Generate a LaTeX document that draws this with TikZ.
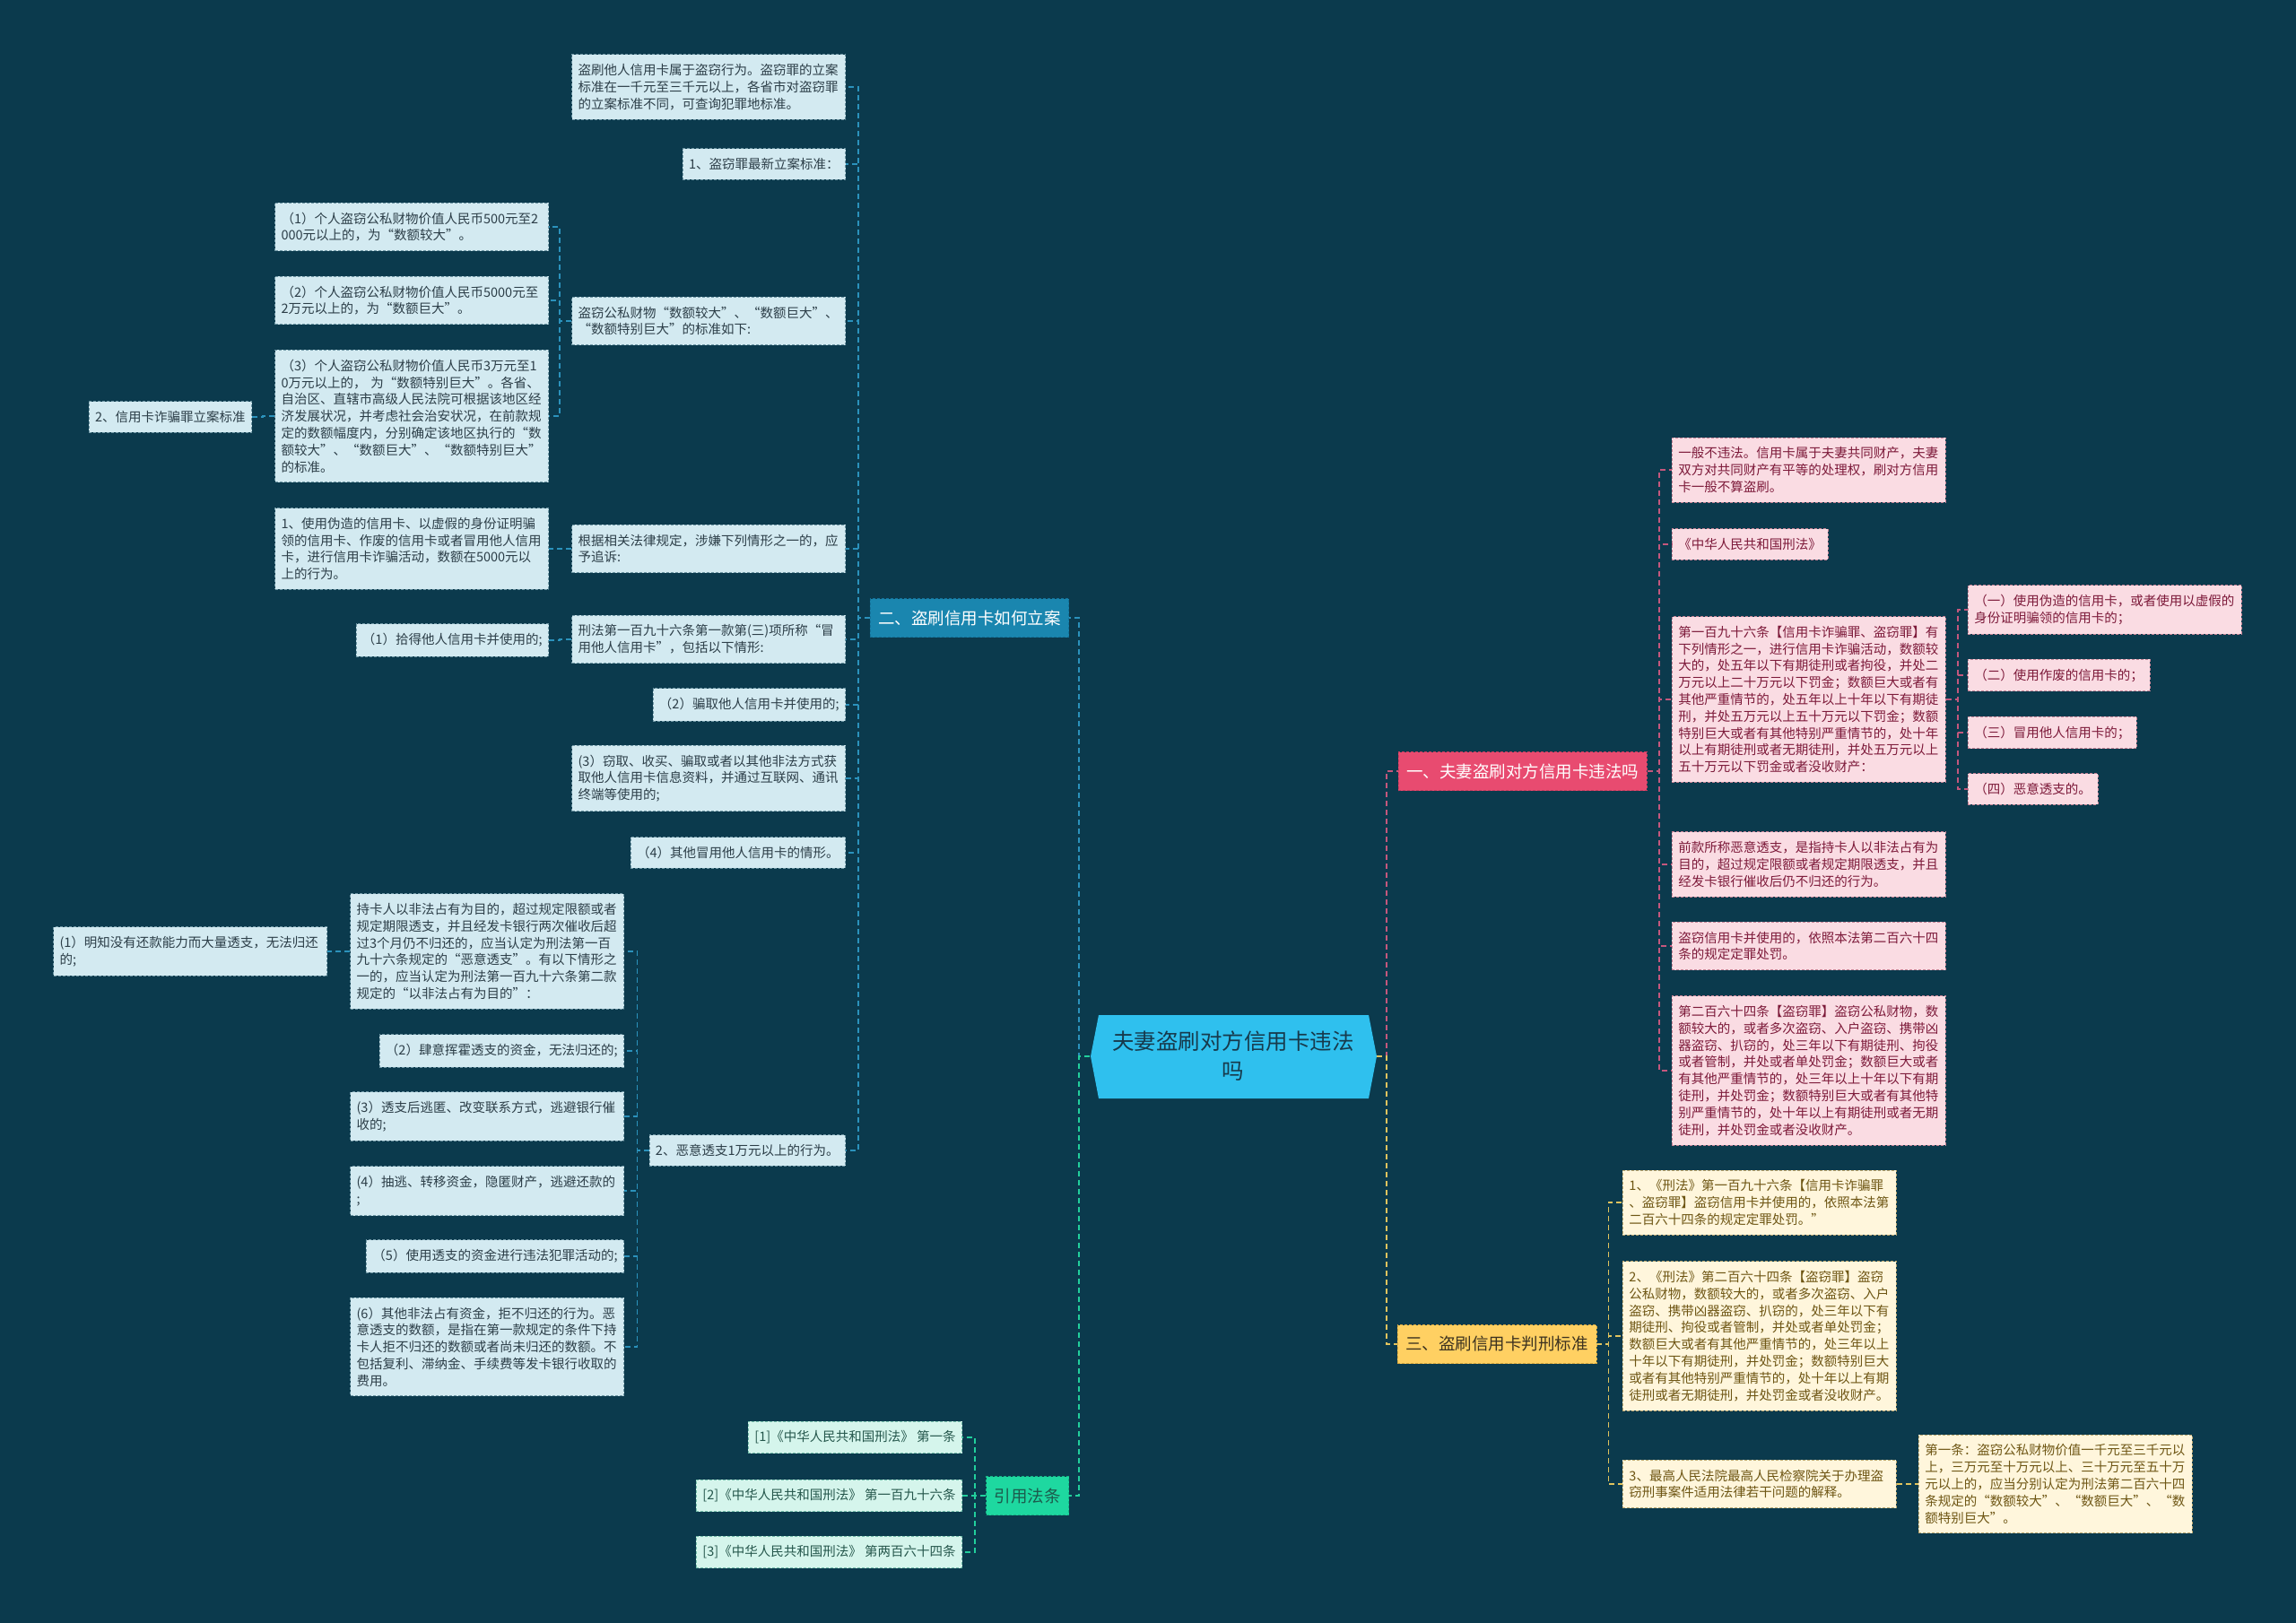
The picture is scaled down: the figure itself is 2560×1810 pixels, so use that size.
\documentclass[tikz,border=0pt]{standalone}
\usepackage{fontspec}
\setmainfont{Noto Sans CJK SC}
\usetikzlibrary{graphs}

\definecolor{colbg}{HTML}{0B3A4D}
\definecolor{colbfill}{HTML}{D3EAF1}
\definecolor{colbdraw}{HTML}{6E96A4}
\definecolor{colbtext}{HTML}{2C3E48}
\definecolor{colbbr}{HTML}{1A86AF}
\definecolor{colbbrd}{HTML}{14729A}
\definecolor{colbln}{HTML}{2B92BC}
\definecolor{colpfill}{HTML}{FADCE3}
\definecolor{colpdraw}{HTML}{C48295}
\definecolor{colptext}{HTML}{7D1A3A}
\definecolor{colpbr}{HTML}{E84B70}
\definecolor{colpbrd}{HTML}{C93C5E}
\definecolor{colpln}{HTML}{C4577D}
\definecolor{colyfill}{HTML}{FFF6DC}
\definecolor{colydraw}{HTML}{BBA66E}
\definecolor{colytext}{HTML}{6E5614}
\definecolor{colybr}{HTML}{FFD062}
\definecolor{colybrd}{HTML}{D9A93E}
\definecolor{colybrtext}{HTML}{3D3320}
\definecolor{colyln}{HTML}{E0C35E}
\definecolor{colgfill}{HTML}{D5F5EC}
\definecolor{colgdraw}{HTML}{73BDAA}
\definecolor{colgtext}{HTML}{25574C}
\definecolor{colgbr}{HTML}{1ED8A0}
\definecolor{colgbrd}{HTML}{17B485}
\definecolor{colgbrtext}{HTML}{1C5A4C}
\definecolor{colgln}{HTML}{22CF9C}
\definecolor{colroot}{HTML}{2FC0EE}
\definecolor{colroottext}{HTML}{173A4C}

\begin{document}
\begin{tikzpicture}[x=1pt,y=-1pt,
    every node/.style={rectangle,dash pattern=on 3pt off 2pt,line width=0.9pt,
      inner xsep=7pt,inner ysep=10.5pt,minimum height=34pt,
      font=\fontsize{14.5}{18.8}\selectfont},
    wide/.style={text width=291pt,align=left},
    leafb/.style={draw=colbdraw,fill=colbfill,text=colbtext},
    leafp/.style={draw=colpdraw,fill=colpfill,text=colptext},
    leafy/.style={draw=colydraw,fill=colyfill,text=colytext},
    leafg/.style={draw=colgdraw,fill=colgfill,text=colgtext},
    branch/.style={inner xsep=9pt,minimum height=43pt,font=\fontsize{18.5}{22}\selectfont},
    lnb/.style={draw=colbln,line width=1.8pt,dash pattern=on 6pt off 4pt},
    lnp/.style={draw=colpln,line width=1.8pt,dash pattern=on 6pt off 4pt},
    lny/.style={draw=colyln,line width=1.8pt,dash pattern=on 6pt off 4pt},
    lng/.style={draw=colgln,line width=1.8pt,dash pattern=on 6pt off 4pt},
    lelbow/.style={to path={(\tikztostart.west) -- ++(-#1,0pt) |- (\tikztotarget.east)}},
    lelbow/.default=13pt,
    relbow/.style={to path={(\tikztostart.east) -- ++(#1,0pt) |- (\tikztotarget.west)}},
    relbow/.default=13pt]

    \useasboundingbox (0,0) rectangle (2560,1810);
    \fill[colbg] (0,0) rectangle (2560,1810);

    % centre
    \fill[colroot] (1216,1178) -- (1225,1132) -- (1526,1132) -- (1535,1178)
        -- (1526,1225) -- (1225,1225) -- cycle;
    \node[draw=none,minimum width=319pt,minimum height=93pt,align=center,text=colroottext,
        font=\fontsize{24.5}{33}\selectfont] (root) at (1375,1178) {夫妻盗刷对方信用卡违法\\吗};

    % branch two
    \node[branch,fill=colbbr,draw=colbbrd,text=white,anchor=east] (br2) at (1192,689) {二、盗刷信用卡如何立案};
    \node[leafb,wide,anchor=east] (t1) at (943,97) {盗刷他人信用卡属于盗窃行为。盗窃罪的立案\\标准在一千元至三千元以上，各省市对盗窃罪\\的立案标准不同，可查询犯罪地标准。};
    \node[leafb,anchor=east] (t2) at (943,183) {1、盗窃罪最新立案标准：};
    \node[leafb,wide,anchor=east] (amt) at (943,358) {盗窃公私财物“数额较大”、“数额巨大”、\\“数额特别巨大”的标准如下:};
    \node[leafb,wide,anchor=east] (a1) at (612,253) {（1）个人盗窃公私财物价值人民币500元至2\\000元以上的，为“数额较大”。};
    \node[leafb,wide,anchor=east] (a2) at (612,335) {（2）个人盗窃公私财物价值人民币5000元至\\2万元以上的，为“数额巨大”。};
    \node[leafb,wide,anchor=east] (a3) at (612,464) {（3）个人盗窃公私财物价值人民币3万元至1\\0万元以上的， 为“数额特别巨大”。各省、\\自治区、直辖市高级人民法院可根据该地区经\\济发展状况，并考虑社会治安状况，在前款规\\定的数额幅度内，分别确定该地区执行的“数\\额较大”、“数额巨大”、“数额特别巨大”\\的标准。};
    \node[leafb,anchor=east] (a3x) at (281,465) {2、信用卡诈骗罪立案标准};
    \node[leafb,wide,anchor=east] (law) at (943,612) {根据相关法律规定，涉嫌下列情形之一的，应\\予追诉:};
    \node[leafb,wide,anchor=east] (law1) at (612,612) {1、使用伪造的信用卡、以虚假的身份证明骗\\领的信用卡、作废的信用卡或者冒用他人信用\\卡，进行信用卡诈骗活动，数额在5000元以\\上的行为。};
    \node[leafb,wide,anchor=east] (art) at (943,713) {刑法第一百九十六条第一款第(三)项所称“冒\\用他人信用卡”，包括以下情形:};
    \node[leafb,anchor=east] (art1) at (612,714) {（1）拾得他人信用卡并使用的;};
    \node[leafb,anchor=east] (b2) at (943,786) {（2）骗取他人信用卡并使用的;};
    \node[leafb,wide,anchor=east] (b3) at (943,868) {(3）窃取、收买、骗取或者以其他非法方式获\\取他人信用卡信息资料，并通过互联网、通讯\\终端等使用的;};
    \node[leafb,anchor=east] (b4) at (943,951) {（4）其他冒用他人信用卡的情形。};
    \node[leafb,anchor=east] (od) at (943,1283) {2、恶意透支1万元以上的行为。};
    \node[leafb,wide,anchor=east] (od0) at (696,1061) {持卡人以非法占有为目的，超过规定限额或者\\规定期限透支，并且经发卡银行两次催收后超\\过3个月仍不归还的，应当认定为刑法第一百\\九十六条规定的“恶意透支”。有以下情形之\\一的，应当认定为刑法第一百九十六条第二款\\规定的“以非法占有为目的”：};
    \node[leafb,wide,anchor=east] (od0a) at (365,1061) {(1）明知没有还款能力而大量透支，无法归还\\的;};
    \node[leafb,anchor=east] (od2) at (696,1172) {（2）肆意挥霍透支的资金，无法归还的;};
    \node[leafb,wide,anchor=east] (od3) at (696,1245) {(3）透支后逃匿、改变联系方式，逃避银行催\\收的;};
    \node[leafb,wide,anchor=east] (od4) at (696,1328) {(4）抽逃、转移资金，隐匿财产，逃避还款的\\;};
    \node[leafb,anchor=east] (od5) at (696,1401) {（5）使用透支的资金进行违法犯罪活动的;};
    \node[leafb,wide,anchor=east] (od6) at (696,1502) {(6）其他非法占有资金，拒不归还的行为。恶\\意透支的数额，是指在第一款规定的条件下持\\卡人拒不归还的数额或者尚未归还的数额。不\\包括复利、滞纳金、手续费等发卡银行收取的\\费用。};

    % cited articles
    \node[branch,fill=colgbr,draw=colgbrd,text=colgbrtext,anchor=east] (cite) at (1192,1668) {引用法条};
    \node[leafg,anchor=east] (c1) at (1073,1603) {[1]《中华人民共和国刑法》 第一条};
    \node[leafg,anchor=east] (c2) at (1073,1668) {[2]《中华人民共和国刑法》 第一百九十六条};
    \node[leafg,anchor=east] (c3) at (1073,1731) {[3]《中华人民共和国刑法》 第两百六十四条};

    % branch one
    \node[branch,fill=colpbr,draw=colpbrd,text=white,anchor=west] (br1) at (1559,860) {一、夫妻盗刷对方信用卡违法吗};
    \node[leafp,wide,anchor=west] (p1) at (1864,524) {一般不违法。信用卡属于夫妻共同财产，夫妻\\双方对共同财产有平等的处理权，刷对方信用\\卡一般不算盗刷。};
    \node[leafp,anchor=west] (p2) at (1864,607) {《中华人民共和国刑法》};
    \node[leafp,wide,anchor=west] (p3) at (1864,780) {第一百九十六条【信用卡诈骗罪、盗窃罪】有\\下列情形之一，进行信用卡诈骗活动，数额较\\大的，处五年以下有期徒刑或者拘役，并处二\\万元以上二十万元以下罚金；数额巨大或者有\\其他严重情节的，处五年以上十年以下有期徒\\刑，并处五万元以上五十万元以下罚金；数额\\特别巨大或者有其他特别严重情节的，处十年\\以上有期徒刑或者无期徒刑，并处五万元以上\\五十万元以下罚金或者没收财产：};
    \node[leafp,wide,anchor=west] (p3a) at (2194,680) {（一）使用伪造的信用卡，或者使用以虚假的\\身份证明骗领的信用卡的；};
    \node[leafp,anchor=west] (p3b) at (2194,753) {（二）使用作废的信用卡的；};
    \node[leafp,anchor=west] (p3c) at (2194,817) {（三）冒用他人信用卡的；};
    \node[leafp,anchor=west] (p3d) at (2194,880) {（四）恶意透支的。};
    \node[leafp,wide,anchor=west] (p4) at (1864,964) {前款所称恶意透支，是指持卡人以非法占有为\\目的，超过规定限额或者规定期限透支，并且\\经发卡银行催收后仍不归还的行为。};
    \node[leafp,wide,anchor=west] (p5) at (1864,1055) {盗窃信用卡并使用的，依照本法第二百六十四\\条的规定定罪处罚。};
    \node[leafp,wide,anchor=west] (p6) at (1864,1194) {第二百六十四条【盗窃罪】盗窃公私财物，数\\额较大的，或者多次盗窃、入户盗窃、携带凶\\器盗窃、扒窃的，处三年以下有期徒刑、拘役\\或者管制，并处或者单处罚金；数额巨大或者\\有其他严重情节的，处三年以上十年以下有期\\徒刑，并处罚金；数额特别巨大或者有其他特\\别严重情节的，处十年以上有期徒刑或者无期\\徒刑，并处罚金或者没收财产。};

    % branch three
    \node[branch,fill=colybr,draw=colybrd,text=colybrtext,anchor=west] (br3) at (1558,1499) {三、盗刷信用卡判刑标准};
    \node[leafy,wide,anchor=west] (y1) at (1809,1341) {1、《刑法》第一百九十六条【信用卡诈骗罪\\、盗窃罪】盗窃信用卡并使用的，依照本法第\\二百六十四条的规定定罪处罚。”};
    \node[leafy,wide,anchor=west] (y2) at (1809,1490) {2、《刑法》第二百六十四条【盗窃罪】盗窃\\公私财物，数额较大的，或者多次盗窃、入户\\盗窃、携带凶器盗窃、扒窃的，处三年以下有\\期徒刑、拘役或者管制，并处或者单处罚金；\\数额巨大或者有其他严重情节的，处三年以上\\十年以下有期徒刑，并处罚金；数额特别巨大\\或者有其他特别严重情节的，处十年以上有期\\徒刑或者无期徒刑，并处罚金或者没收财产。};
    \node[leafy,wide,anchor=west] (y3) at (1809,1655) {3、最高人民法院最高人民检察院关于办理盗\\窃刑事案件适用法律若干问题的解释。};
    \node[leafy,wide,anchor=west] (y3a) at (2139,1655) {第一条：盗窃公私财物价值一千元至三千元以\\上，三万元至十万元以上、三十万元至五十万\\元以上的，应当分别认定为刑法第二百六十四\\条规定的“数额较大”、“数额巨大”、“数\\额特别巨大”。};

    \graph {
        (root) --[lnb,lelbow=12pt] (br2);
        (root) --[lng,lelbow=12pt] (cite);
        (root) --[lnp,relbow=11pt] (br1);
        (root) --[lny,relbow=11pt] (br3);
    };

    \graph[edges={lnb,lelbow}] {
        (br2) -- {(t1), (t2), (amt), (law), (art), (b2), (b3), (b4), (od)};
        (amt) -- {(a1), (a2), (a3)};
        (a3) -- (a3x);
        (law) -- (law1);
        (art) -- (art1);
        (od) -- {(od0), (od2), (od3), (od4), (od5), (od6)};
        (od0) -- (od0a);
    };
    \graph[edges={lng,lelbow=12pt}] {
        (cite) -- {(c1), (c2), (c3)};
    };
    \graph[edges={lnp,relbow}] {
        (br1) -- {(p1), (p2), (p3), (p4), (p5), (p6)};
        (p3) -- {(p3a), (p3b), (p3c), (p3d)};
    };
    \graph[edges={lny,relbow}] {
        (br3) -- {(y1), (y2), (y3)};
        (y3) -- (y3a);
    };
\end{tikzpicture}
\end{document}
